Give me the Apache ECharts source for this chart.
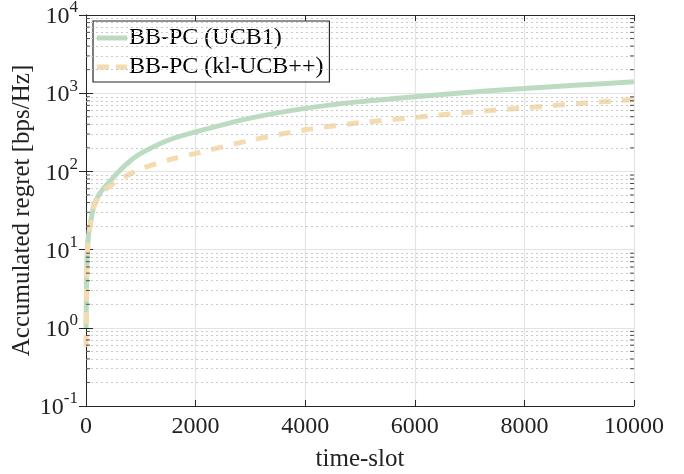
<!DOCTYPE html>
<html>
<head>
<meta charset="utf-8">
<script src="https://cdn.jsdelivr.net/npm/echarts@6/dist/echarts.min.js"></script>
<style>
  html, body { margin: 0; padding: 0; background: #fff; }
  #chart { width: 684px; height: 474px; }
</style>
</head>
<body>
<div id="chart"></div>
<script>
// time-slot samples
const timeSlots = [1, 5, 10, 20, 40, 70, 100, 150, 250, 400, 600, 800, 1000, 1500, 2000, 3000, 4000, 5000, 6000, 7000, 8000, 9000, 10000]
const ucb1 = [1.0, 2, 4, 8, 14, 20, 26, 38, 52, 70, 100, 135, 170, 250, 320, 480, 640, 780, 900, 1030, 1150, 1270, 1400]
const klUcb = [0.57, 1.5, 3.5, 7, 13, 19, 25, 36, 50, 62, 78, 92, 108, 140, 170, 250, 340, 420, 490, 570, 650, 740, 830]
const xTicks = [0, 2000, 4000, 6000, 8000, 10000]
const decades = [0.1, 1, 10, 100, 1000, 10000]

const serif = 'Liberation Serif'
const axisColor = '#262626'
const green = '#bcdcc1'
const beige = '#f4dbb0'

// minor grid values 2..9 x 10^k
const minorVals = []
decades.slice(0, -1).forEach((d) => {
  for (let m = 2; m <= 9; m++) minorVals.push(+(d * m).toPrecision(3))
})

const chart = echarts.init(document.getElementById('chart'))

const tickSeries = (xPos, offset) => ({
  type: 'scatter',
  xAxisIndex: 0,
  yAxisIndex: 0,
  silent: true,
  clip: false,
  symbol: 'rect',
  symbolSize: [4, 1],
  symbolOffset: [offset, 0],
  itemStyle: { color: axisColor },
  data: minorVals.map((v) => [xPos, v]),
  z: 5,
})

chart.setOption({
  animation: false,
  grid: { left: 86, right: 50, top: 15, bottom: 68, outerBoundsMode: 'none', containLabel: false },
  legend: {
    left: 93,
    top: 21,
    orient: 'vertical',
    padding: [5, 6, 3, 4],
    itemGap: 5,
    itemWidth: 30,
    itemHeight: 5,
    backgroundColor: '#fff',
    borderColor: axisColor,
    borderWidth: 1.2,
    borderRadius: 0,
    textStyle: { fontFamily: serif, fontSize: 24, color: '#000', padding: [0, 0, 0, -3] },
    data: [
      { name: 'BB-PC (UCB1)', icon: 'rect', itemStyle: { color: green } },
      { name: 'BB-PC (kl-UCB++)', icon: 'path://M0,0h12v5h-12z M19,0h11v5h-11z', itemStyle: { color: beige } },
    ],
  },
  xAxis: [
    {
      type: 'value',
      min: 0,
      max: 10000,
      interval: 2000,
      name: 'time-slot',
      nameLocation: 'middle',
      nameGap: 41,
      nameTextStyle: { fontFamily: serif, fontSize: 25, color: '#222' },
      axisLine: { lineStyle: { color: axisColor, width: 1 } },
      axisTick: { inside: true, length: 6, lineStyle: { color: axisColor } },
      axisLabel: { fontFamily: serif, fontSize: 24, color: '#222', margin: 9, formatter: (v) => String(v) },
      splitLine: { show: true, lineStyle: { color: '#e3e3e3', width: 1.2 } },
    },
    {
      type: 'value',
      position: 'top',
      min: 0,
      max: 10000,
      interval: 2000,
      axisLine: { show: true, lineStyle: { color: axisColor, width: 1 } },
      axisTick: { inside: true, length: 6, lineStyle: { color: axisColor } },
      axisLabel: { show: false },
      splitLine: { show: false },
    },
  ],
  yAxis: [
    {
      type: 'log',
      logBase: 10,
      min: 0.1,
      max: 10000,
      name: 'Accumulated regret [bps/Hz]',
      nameLocation: 'middle',
      nameGap: 51,
      nameMoveOverlap: false,
      nameTextStyle: { fontFamily: serif, fontSize: 25, color: '#222' },
      axisLine: { show: true, lineStyle: { color: axisColor, width: 1 } },
      axisTick: { show: true, inside: true, length: 7, lineStyle: { color: axisColor } },
      axisLabel: {
        margin: 8,
        formatter: (v) => '{b|10}{s|' + Math.round(Math.log10(v)) + '}',
        rich: {
          b: { fontFamily: serif, fontSize: 24, color: '#222', padding: [4, 0, 0, 0] },
          s: { fontFamily: serif, fontSize: 17, color: '#222', verticalAlign: 'bottom', padding: [0, 0, 14, 0] },
        },
      },
      splitLine: { show: true, lineStyle: { color: '#e3e3e3', width: 1.2 } },
    },
    {
      type: 'log',
      logBase: 10,
      min: 0.1,
      max: 10000,
      position: 'right',
      axisLine: { show: true, lineStyle: { color: axisColor, width: 1 } },
      axisTick: { show: true, inside: true, length: 7, lineStyle: { color: axisColor } },
      axisLabel: { show: false },
      splitLine: { show: false },
    },
  ],
  series: [
    {
      type: 'line',
      silent: true,
      data: [],
      markLine: {
        silent: true,
        symbol: 'none',
        label: { show: false },
        lineStyle: { color: '#cacaca', type: [2, 3], width: 1 },
        data: minorVals.map((v) => ({ yAxis: v })),
      },
    },
    tickSeries(0, 2),
    tickSeries(10000, -2),
    {
      name: 'BB-PC (UCB1)',
      type: 'line',
      smooth: 0.3,
      symbol: 'none',
      lineStyle: { color: green, width: 5 },
      itemStyle: { color: green },
      data: timeSlots.map((t, i) => [t, ucb1[i]]),
      z: 3,
    },
    {
      name: 'BB-PC (kl-UCB++)',
      type: 'line',
      smooth: 0.3,
      symbol: 'none',
      lineStyle: { color: beige, width: 5, type: [12, 11] },
      itemStyle: { color: beige },
      data: timeSlots.map((t, i) => [t, klUcb[i]]),
      z: 4,
    },
  ],
})
</script>
</body>
</html>
